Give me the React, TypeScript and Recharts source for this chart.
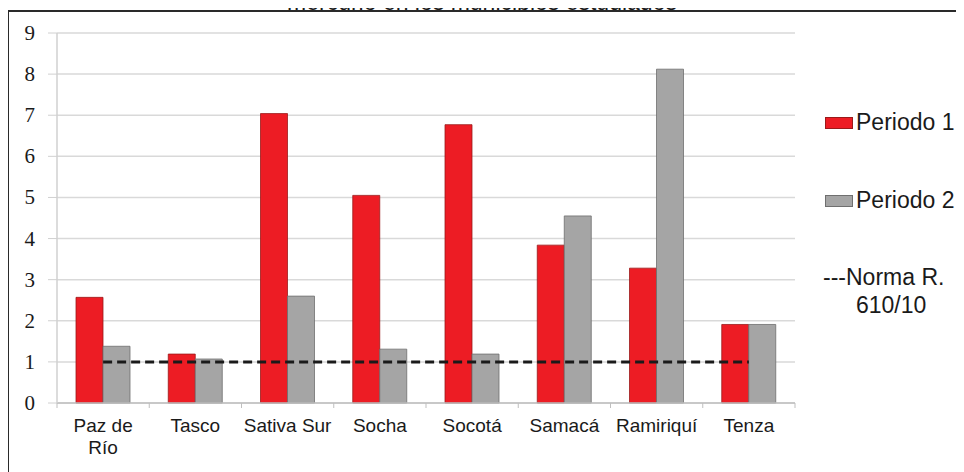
import React from "react"
import { ComposedChart, Bar, Line, XAxis, YAxis, CartesianGrid } from "recharts"

const MUNICIPIOS = ["Paz de\nRío", "Tasco", "Sativa Sur", "Socha", "Socotá", "Samacá", "Ramiriquí", "Tenza"]
const PERIODO_1 = [2.57, 1.19, 7.04, 5.05, 6.77, 3.84, 3.28, 1.91]
const PERIODO_2 = [1.38, 1.07, 2.6, 1.31, 1.19, 4.55, 8.12, 1.91]
const NORMA = [1, 1, 1, 1, 1, 1, 1, 1]
const Y_TICKS = [0, 1, 2, 3, 4, 5, 6, 7, 8, 9]

const data = MUNICIPIOS.map((name, i) => ({
  name,
  p1: PERIODO_1[i],
  p2: PERIODO_2[i],
  norma: NORMA[i],
}))

const RED = "#ed1c24"
const GRAY = "#a5a5a5"
const SANS = "'Liberation Sans', Arial, sans-serif"
const SERIF = "'Liberation Serif', 'Times New Roman', serif"

const CategoryTick = (props: any) => {
  const { x, y, payload, index } = props
  const half = payload.offset || 46
  const lines = String(payload.value).split("\n")
  const axisY = y - 8
  return (
    <g>
      <line x1={x - half} x2={x - half} y1={axisY} y2={axisY + 5} stroke="#bfbfbf" />
      {index === MUNICIPIOS.length - 1 && (
        <line x1={x + half} x2={x + half} y1={axisY} y2={axisY + 5} stroke="#bfbfbf" />
      )}
      <text x={x} y={axisY + 29} textAnchor="middle" fill="#1a1a1a" fontSize={19} style={{ fontFamily: SANS }}>
        {lines.map((l, k) => (
          <tspan key={k} x={x} dy={k === 0 ? 0 : 22}>
            {l}
          </tspan>
        ))}
      </text>
    </g>
  )
}

const ValueTick = (props: any) => {
  const { x, y, payload } = props
  return (
    <text x={x} y={y + 7} textAnchor="end" fill="#1a1a1a" fontSize={21} style={{ fontFamily: SERIF }}>
      {payload.value}
    </text>
  )
}

const legendText: React.CSSProperties = {
  position: "absolute",
  fontFamily: SANS,
  fontSize: 23,
  lineHeight: "23px",
  color: "#1a1a1a",
  whiteSpace: "nowrap",
}

export default function App() {
  return (
    <div
      style={{
        position: "relative",
        margin: "-8px 0 0 -8px",
        width: 964,
        height: 472,
        overflow: "hidden",
        background: "#fff",
      }}
    >
      {/* título cortado arriba */}
      <div style={{ ...legendText, left: 0, width: 964, top: -9, textAlign: "center" }}>
        mercurio en los municipios estudiados
      </div>
      <div
        style={{
          position: "absolute",
          left: 7,
          top: 10,
          width: 1000,
          height: 500,
          border: "2px solid #2a2a2a",
          background: "#fff",
        }}
      />
      <div style={{ position: "absolute", left: 0, top: 0 }}>
        <ComposedChart
          width={964}
          height={472}
          data={data}
          margin={{ top: 33, right: 169, left: 12, bottom: 19 }}
          barGap={0}
        >
          <CartesianGrid vertical={false} stroke="#d9d9d9" strokeWidth={1.5} />
          <XAxis
            dataKey="name"
            height={50}
            axisLine={{ stroke: "#bfbfbf", strokeWidth: 1.5 }}
            tickLine={false}
            interval={0}
            tick={<CategoryTick />}
          />
          <YAxis
            domain={[0, 9]}
            ticks={Y_TICKS}
            width={45}
            interval={0}
            axisLine={{ stroke: "#d0d0d0", strokeWidth: 1.5 }}
            tickLine={{ stroke: "#d0d0d0" }}
            tickSize={9}
            tickMargin={13}
            tick={<ValueTick />}
          />
          <Bar dataKey="p1" fill={RED} stroke="#9a1a1a" strokeWidth={0.8} barSize={27} isAnimationActive={false} />
          <Bar dataKey="p2" fill={GRAY} stroke="#6f6f6f" strokeWidth={0.8} barSize={27} isAnimationActive={false} />
          <Line
            dataKey="norma"
            stroke="#1a1a1a"
            strokeWidth={3}
            strokeDasharray="9 5"
            dot={false}
            activeDot={false}
            isAnimationActive={false}
          />
        </ComposedChart>
      </div>

      {/* leyenda */}
      <div style={{ position: "absolute", left: 825, top: 117, width: 28, height: 12, background: RED, border: "1px solid #9a1a1a", boxSizing: "border-box" }} />
      <div style={{ ...legendText, left: 856, top: 111 }}>Periodo 1</div>
      <div style={{ position: "absolute", left: 825, top: 195, width: 28, height: 12, background: GRAY, border: "1px solid #6f6f6f", boxSizing: "border-box" }} />
      <div style={{ ...legendText, left: 856, top: 189 }}>Periodo 2</div>
      <div style={{ ...legendText, left: 823, top: 266 }}>---Norma R.</div>
      <div style={{ ...legendText, left: 856, top: 294 }}>610/10</div>
    </div>
  )
}
